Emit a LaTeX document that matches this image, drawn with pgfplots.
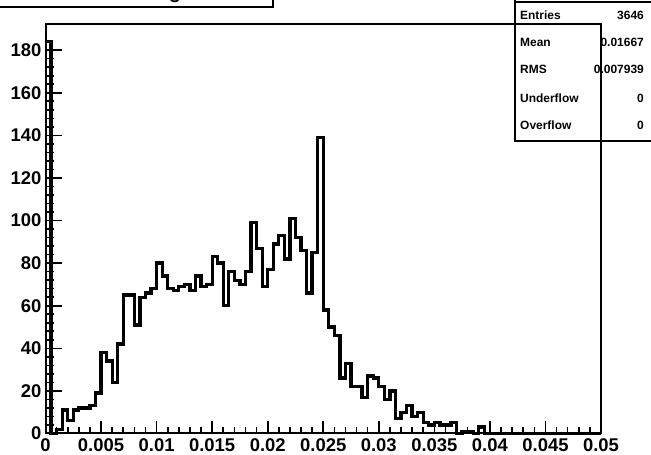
\documentclass[border=0pt]{standalone}
\usepackage{fontspec}
\setmainfont{Liberation Sans}
\usepackage{pgfplots}
\pgfplotsset{compat=1.18}
\pgfplotstableread{
x y
0.0000 184
0.0005 0
0.0010 2
0.0015 11
0.0020 6
0.0025 11
0.0030 12
0.0035 12
0.0040 13
0.0045 19
0.0050 38
0.0055 34
0.0060 24
0.0065 42
0.0070 65
0.0075 65
0.0080 51
0.0085 64
0.0090 66
0.0095 68
0.0100 80
0.0105 74
0.0110 68
0.0115 67
0.0120 69
0.0125 70
0.0130 67
0.0135 74
0.0140 69
0.0145 70
0.0150 83
0.0155 80
0.0160 60
0.0165 76
0.0170 72
0.0175 70
0.0180 76
0.0185 99
0.0190 87
0.0195 69
0.0200 77
0.0205 89
0.0210 93
0.0215 82
0.0220 101
0.0225 92
0.0230 86
0.0235 66
0.0240 85
0.0245 139
0.0250 58
0.0255 50
0.0260 46
0.0265 26
0.0270 33
0.0275 22
0.0280 22
0.0285 17
0.0290 27
0.0295 26
0.0300 22
0.0305 16
0.0310 20
0.0315 7
0.0320 10
0.0325 13
0.0330 8
0.0335 10
0.0340 5
0.0345 4
0.0350 5
0.0355 4
0.0360 4
0.0365 5
0.0370 0
0.0375 1
0.0380 1
0.0385 0
0.0390 3
0.0395 0
0.0400 0
0.0405 0
0.0410 0
0.0415 0
0.0420 0
0.0425 0
0.0430 0
0.0435 0
0.0440 0
0.0445 0
0.0450 0
0.0455 0
0.0460 0
0.0465 0
0.0470 0
0.0475 0
0.0480 0
0.0485 0
0.0490 0
0.0495 0
0.0500 0
}\histdata
\begin{document}
\begin{tikzpicture}[x=1bp,y=1bp]
\begin{axis}[
  at={(45.5bp,21.5bp)}, anchor=south west,
  scale only axis, width=555.5bp, height=409.5bp,
  xmin=0, xmax=0.05, ymin=0, ymax=192.3,
  axis line style={line width=2bp},
  tick pos=left, tick align=inside,
  xtick={0,0.005,0.01,0.015,0.02,0.025,0.03,0.035,0.04,0.045,0.05},
  xticklabels={0,0.005,0.01,0.015,0.02,0.025,0.03,0.035,0.04,0.045,0.05},
  scaled x ticks=false,
  ytick={0,20,40,60,80,100,120,140,160,180},
  minor x tick num=4, minor y tick num=4,
  x tick style={line width=1.6bp, black, /pgfplots/major tick length=12bp, /pgfplots/minor tick length=6bp},
  y tick style={line width=1.6bp, black, /pgfplots/major tick length=16.7bp, /pgfplots/minor tick length=8.4bp},
  /pgf/number format/assume math mode=true,
  ticklabel style={font=\fontsize{18.5}{18.5}\selectfont\bfseries},
  xticklabel style={inner sep=3bp, yshift=-2bp},
  yticklabel style={inner sep=4bp},
  clip=false,
]
\addplot[const plot, line width=3.3bp, black, line join=miter] table[x=x,y=y] {\histdata};
\end{axis}
% title box (mostly outside the picture)
\draw[line width=1.6bp] (-5,448) -- (273,448) -- (273,470);
\node[anchor=base, inner sep=0, font=\fontsize{20}{20}\selectfont\bfseries] at (175,456.5) {g};
% stats box
\draw[line width=1.6bp] (515,470) -- (515,314) -- (660,314);
\draw[line width=1.6bp] (515,453) -- (660,453);
\begin{scope}[every node/.style={inner sep=0, font=\fontsize{12}{12}\selectfont\bfseries}]
\node[anchor=base west] at (520,435) {Entries};
\node[anchor=base east] at (644,435) {3646};
\node[anchor=base west] at (520,408) {Mean};
\node[anchor=base east] at (644,408) {0.01667};
\node[anchor=base west] at (520,381) {RMS};
\node[anchor=base east] at (644,381) {0.007939};
\node[anchor=base west] at (520,352.5) {Underflow};
\node[anchor=base east] at (644,352.5) {0};
\node[anchor=base west] at (520,325) {Overflow};
\node[anchor=base east] at (644,325) {0};
\end{scope}
\pgfresetboundingbox
\useasboundingbox (0,0) rectangle (651,455);
\end{tikzpicture}
\end{document}
